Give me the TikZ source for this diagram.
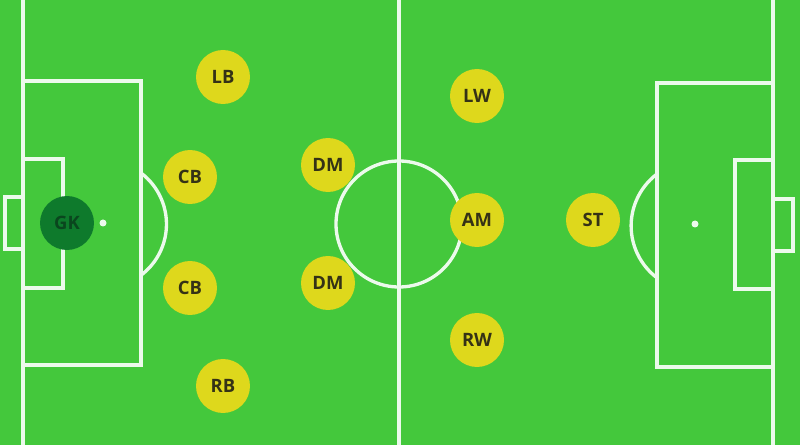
\documentclass[tikz,border=0pt]{standalone}
\usepackage{fontspec}
\newfontfamily\playerfont{Open Sans}
\definecolor{pitch}{RGB}{68,200,60}
\definecolor{chalk}{RGB}{236,250,236}
\definecolor{shirt}{RGB}{222,216,28}
\definecolor{keeper}{RGB}{14,122,44}
\definecolor{ink}{RGB}{52,50,22}
\definecolor{keeperink}{RGB}{10,70,30}

\begin{document}
\begin{tikzpicture}[x=0.02cm, y=-0.02cm,
    line/.style = {draw=chalk, line width=1.9pt},
    player/.style = {circle, fill=shirt, minimum size=1.08cm, inner sep=0pt, text=ink, font=\playerfont\bfseries\fontsize{10.5}{12}\selectfont},
    goalie/.style = {player, fill=keeper, text=keeperink}]
    \fill[pitch] (0,0) rectangle (800,445);
    \useasboundingbox (0,0) rectangle (800,445);
    % touchlines and halfway line
    \draw[line] (23,-5) -- (23,450);
    \draw[line] (773,-5) -- (773,450);
    \draw[line] (399,-5) -- (399,450);
    \draw[line] (399,224) circle[radius=63];
    % left end
    \draw[line] (23,81) -- (141,81) -- (141,365) -- (23,365);
    \draw[line] (23,159) -- (63,159) -- (63,288) -- (23,288);
    \draw[line] (23,197) -- (5,197) -- (5,249) -- (23,249);
    \fill[chalk] (103,223) circle[radius=3.5];
    \draw[line] (141,173) arc[start angle=-53, end angle=53, radius=64];
    % right end
    \draw[line] (773,83) -- (657,83) -- (657,367) -- (773,367);
    \draw[line] (773,160) -- (735,160) -- (735,289) -- (773,289);
    \draw[line] (773,199) -- (793,199) -- (793,251) -- (773,251);
    \fill[chalk] (695,224) circle[radius=3.5];
    \draw[line] (657,174) arc[start angle=233, end angle=127, radius=65];
    % players
    \node[goalie] (gk) at (67,223) {GK};
    \node[player] (lb) at (223,77) {LB};
    \node[player] (lcb) at (190,177) {CB};
    \node[player] (rcb) at (190,288) {CB};
    \node[player] (rb) at (223,386) {RB};
    \node[player] (ldm) at (328,165) {DM};
    \node[player] (rdm) at (328,283) {DM};
    \node[player] (lw) at (477,96) {LW};
    \node[player] (am) at (477,220) {AM};
    \node[player] (rw) at (477,340) {RW};
    \node[player] (st) at (593,220) {ST};
\end{tikzpicture}
\end{document}
